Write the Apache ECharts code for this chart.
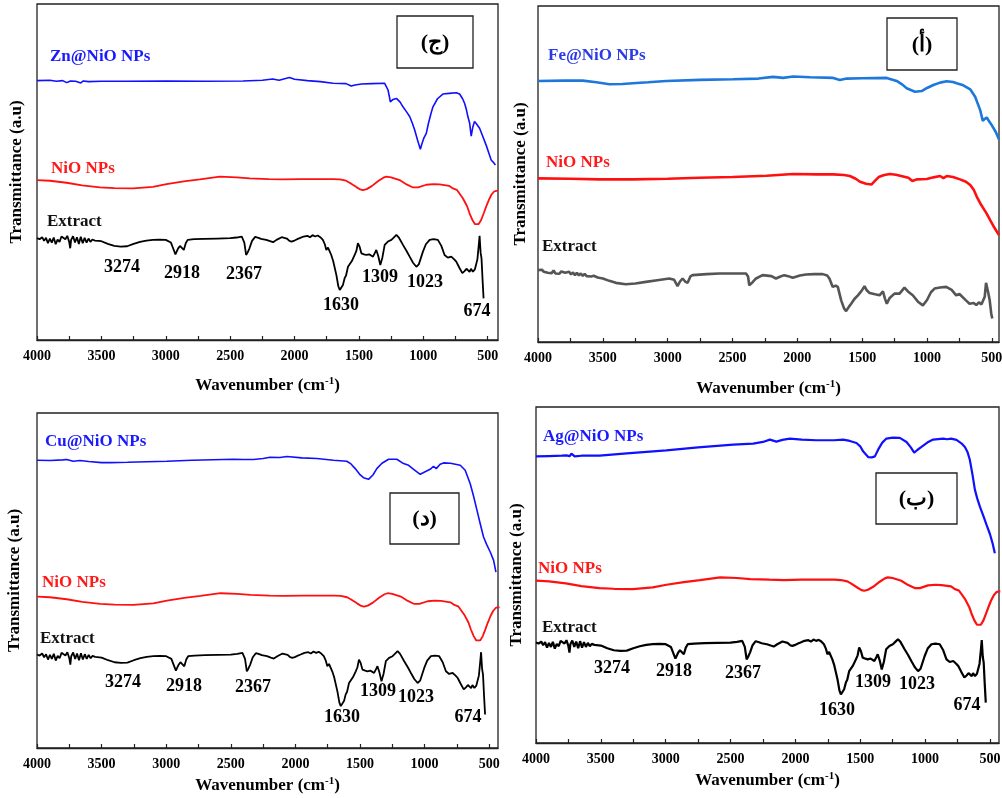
<!DOCTYPE html>
<html>
<head>
<meta charset="utf-8">
<script src="https://cdn.jsdelivr.net/npm/echarts@6/dist/echarts.min.js"></script>
<style>
html,body{margin:0;padding:0;background:#fff;}
#main{width:1002px;height:798px;}
</style>
</head>
<body>
<div id="main"></div>
<script>
// --- spectra, [wavenumber, transmittance a.u.] ---
// plant extract (shared by panels ج, د, ب)
var extract = [[4000,30.3],[3980,30.0],[3960,30.6],[3945,29.5],[3930,30.4],[3915,28.8],[3900,30.2],[3885,29.0],[3870,30.5],[3855,28.5],[3840,29.9],[3825,29.2],[3810,30.8],[3795,31.2],[3780,30.0],[3765,31.0],[3750,29.2],[3742,27.3],[3735,29.8],[3720,30.9],[3705,29.0],[3690,30.6],[3675,28.6],[3660,30.7],[3645,28.8],[3630,30.4],[3615,29.0],[3600,30.2],[3585,29.2],[3570,29.9],[3550,29.6],[3500,29.4],[3450,28.6],[3400,28.0],[3350,27.8],[3300,27.9],[3250,28.6],[3200,29.2],[3150,29.6],[3100,29.8],[3050,29.9],[3000,29.8],[2960,29.0],[2940,27.0],[2925,25.5],[2905,27.2],[2890,28.0],[2875,27.5],[2860,26.8],[2845,28.8],[2830,29.8],[2780,30.0],[2700,30.1],[2600,30.2],[2500,30.3],[2450,30.5],[2410,30.8],[2390,29.0],[2376,25.3],[2365,26.0],[2350,27.3],[2330,29.5],[2306,30.7],[2280,30.4],[2260,30.1],[2220,29.8],[2190,29.4],[2167,29.1],[2140,29.8],[2100,30.6],[2089,30.4],[2060,30.2],[2040,29.5],[2024,29.3],[2000,29.6],[1980,30.0],[1960,30.3],[1930,30.8],[1900,31.0],[1880,30.6],[1860,31.2],[1840,30.8],[1820,31.1],[1800,30.6],[1780,29.8],[1765,28.5],[1753,26.8],[1740,27.5],[1727,27.3],[1715,25.3],[1700,23.5],[1675,19.3],[1660,16.0],[1649,14.9],[1638,14.4],[1624,16.4],[1610,18.5],[1600,19.2],[1585,21.8],[1570,22.2],[1555,23.5],[1533,25.3],[1520,26.5],[1508,28.8],[1495,27.8],[1481,25.8],[1460,25.5],[1442,25.3],[1420,25.5],[1391,24.8],[1375,26.0],[1365,26.8],[1350,25.0],[1334,22.3],[1318,24.5],[1300,28.3],[1275,29.3],[1248,29.8],[1230,30.5],[1209,31.3],[1190,30.5],[1158,28.3],[1130,26.5],[1106,24.8],[1080,23.0],[1054,21.8],[1035,22.5],[1003,26.3],[980,28.5],[951,29.8],[920,30.0],[887,29.8],[860,28.0],[835,25.3],[810,24.5],[783,24.8],[760,24.0],[744,23.3],[720,21.5],[697,19.9],[680,20.5],[665,21.2],[654,20.8],[640,20.3],[630,21.2],[615,20.3],[600,21.0],[594,20.8],[580,24.0],[570,28.0],[563,31.0],[555,26.0],[548,24.3],[540,18.0],[532,12.4]];

// bare NiO NPs (shared by panels ج, د, ب)
var nio = [[4000,47.6],[3900,47.4],[3770,46.8],[3650,46.0],[3511,45.4],[3400,45.2],[3253,45.1],[3100,45.6],[2994,46.4],[2860,47.2],[2735,47.8],[2580,48.6],[2450,48.4],[2348,48.1],[2200,47.9],[2089,47.8],[1950,47.9],[1830,47.9],[1700,47.9],[1649,47.8],[1600,47.4],[1572,46.8],[1520,45.5],[1490,44.8],[1469,44.6],[1440,44.9],[1400,45.8],[1350,47.3],[1310,48.3],[1287,48.6],[1250,48.4],[1184,47.6],[1130,46.3],[1080,45.4],[1040,45.4],[977,46.2],[920,46.4],[873,46.3],[800,45.9],[770,45.1],[740,44.7],[693,42.2],[660,39.8],[641,37.7],[620,35.8],[600,34.5],[589,34.2],[570,34.5],[550,35.8],[530,37.8],[512,39.7],[490,41.8],[470,43.3],[450,44.2],[434,44.4],[420,44.4]];

// vertical shift of the shared curves in each panel (ج, أ, د, ب)
var extractShift = [0, null, -2.4, -0.4];
var nioShift = [0, null, -2.4, 0.7];

var znNio = [[4000,77.2],[3900,77.3],[3850,77.0],[3800,77.2],[3770,76.6],[3740,77.1],[3700,77.0],[3660,76.5],[3640,77.1],[3600,76.9],[3500,77.0],[3300,77.0],[3000,77.1],[2700,77.0],[2400,77.1],[2250,77.3],[2170,77.7],[2120,77.3],[2040,78.1],[2000,77.6],[1900,77.2],[1800,76.9],[1700,76.4],[1600,76.3],[1560,75.6],[1530,75.9],[1480,76.2],[1400,76.3],[1300,76.4],[1274,74.4],[1256,70.9],[1235,71.6],[1209,71.9],[1180,70.8],[1158,69.4],[1130,67.9],[1106,66.5],[1085,64.5],[1067,62.5],[1045,59.5],[1023,56.8],[1010,58.5],[997,60.0],[985,60.5],[977,61.5],[960,64.5],[940,67.5],[925,69.4],[890,71.8],[848,73.2],[800,73.4],[744,73.6],[718,73.2],[695,71.8],[679,70.4],[665,68.5],[654,66.5],[640,64.5],[628,60.7],[615,63.5],[602,65.0],[585,64.2],[563,63.0],[540,60.8],[512,58.0],[490,55.5],[473,53.6],[455,52.8],[440,52.1]];

var feNio = [[4000,77.7],[3800,77.8],[3655,77.8],[3550,77.3],[3449,76.7],[3350,76.8],[3269,77.0],[3150,77.3],[3011,77.7],[2750,78.0],[2496,78.2],[2300,78.4],[2187,78.9],[2110,78.6],[2032,79.0],[1900,78.8],[1723,78.6],[1672,78.0],[1620,78.4],[1500,78.5],[1311,78.6],[1234,77.7],[1190,76.6],[1157,75.5],[1093,74.5],[1041,74.7],[1000,75.6],[951,76.5],[900,77.2],[848,77.6],[800,77.4],[771,77.0],[720,76.4],[667,75.2],[629,73.0],[590,69.0],[570,65.8],[555,66.4],[539,66.8],[520,65.6],[500,64.5],[470,62.5],[445,60.3]];

var nioB = [[4000,48.7],[3750,48.6],[3526,48.4],[3269,48.4],[3000,48.6],[2754,48.9],[2500,49.1],[2238,49.5],[2032,50.0],[1850,49.9],[1723,49.9],[1640,49.7],[1595,49.4],[1550,48.6],[1517,47.7],[1470,47.1],[1427,46.9],[1400,48.0],[1373,49.1],[1330,49.7],[1286,50.0],[1240,49.8],[1208,49.5],[1144,48.9],[1113,47.9],[1080,48.4],[1002,48.5],[950,49.0],[899,49.4],[874,48.8],[848,49.4],[800,49.1],[745,48.4],[700,47.7],[667,46.7],[640,45.3],[616,43.2],[590,41.3],[564,39.7],[540,38.2],[513,36.3],[480,34.0],[445,31.8]];

var extractB = [[4000,21.4],[3985,21.0],[3970,21.5],[3955,20.9],[3940,21.2],[3925,20.6],[3910,21.1],[3895,20.5],[3880,21.3],[3865,20.4],[3850,20.9],[3835,20.3],[3820,21.0],[3805,21.4],[3790,20.6],[3775,20.2],[3760,20.9],[3745,20.1],[3730,20.7],[3715,19.9],[3700,20.6],[3685,19.8],[3670,20.4],[3655,19.7],[3640,20.3],[3625,19.6],[3610,20.0],[3590,19.5],[3570,19.7],[3540,19.2],[3500,18.9],[3450,18.2],[3400,17.6],[3323,17.2],[3250,17.4],[3168,17.9],[3080,18.4],[2988,18.9],[2950,18.5],[2924,16.6],[2905,18.0],[2885,18.9],[2865,18.0],[2846,17.6],[2825,19.5],[2808,19.9],[2700,20.2],[2602,20.4],[2500,20.4],[2396,20.4],[2380,19.5],[2371,16.9],[2345,17.8],[2319,18.9],[2268,19.9],[2200,19.6],[2165,18.9],[2130,19.5],[2101,19.9],[2070,19.6],[2036,19.1],[1980,19.8],[1933,20.1],[1870,20.2],[1804,20.2],[1770,19.8],[1753,18.9],[1727,16.4],[1705,16.8],[1688,16.4],[1662,12.4],[1640,10.0],[1624,9.2],[1600,10.6],[1585,11.4],[1560,12.8],[1533,13.9],[1505,15.2],[1482,16.6],[1465,15.4],[1443,14.6],[1400,14.2],[1366,13.9],[1340,15.1],[1325,13.0],[1310,11.4],[1290,13.0],[1251,14.4],[1212,14.4],[1174,16.2],[1140,14.8],[1110,13.9],[1070,12.0],[1032,10.9],[1000,12.5],[970,14.8],[942,15.9],[900,16.2],[852,16.4],[810,15.5],[775,13.9],[750,14.3],[736,14.1],[700,12.4],[672,11.4],[640,11.6],[620,11.0],[600,11.8],[580,11.2],[569,11.4],[555,13.5],[545,17.6],[538,17.6],[530,15.0],[517,12.5],[505,8.5],[497,7.0]];

var cuNio = [[4000,85.9],[3900,85.8],[3800,86.0],[3770,86.1],[3720,85.6],[3667,85.8],[3600,85.5],[3500,85.2],[3435,85.2],[3300,85.3],[2996,85.6],[2800,85.9],[2480,86.2],[2400,86.1],[2325,86.1],[2250,86.4],[2196,86.8],[2120,86.7],[2067,87.0],[1950,86.6],[1834,86.4],[1705,85.9],[1602,85.6],[1570,84.8],[1537,83.4],[1500,81.6],[1473,80.7],[1434,80.2],[1400,81.5],[1370,83.4],[1330,85.0],[1279,86.2],[1215,86.2],[1163,84.9],[1124,84.4],[1080,83.0],[1034,81.7],[1000,82.4],[957,83.2],[931,84.1],[910,83.4],[880,84.7],[853,85.1],[800,85.0],[724,84.4],[686,82.9],[647,78.9],[620,75.0],[595,71.0],[570,67.0],[544,63.0],[520,60.8],[492,58.5],[466,56.0],[448,52.5]];

var agNio = [[4000,85.3],[3900,85.4],[3800,85.5],[3766,85.6],[3740,85.4],[3727,86.1],[3702,85.3],[3650,85.5],[3509,85.5],[3300,86.2],[2995,87.1],[2750,88.0],[2480,88.8],[2326,89.1],[2250,89.6],[2197,90.3],[2146,89.7],[2100,90.2],[2043,90.6],[1950,90.3],[1838,90.1],[1700,90.1],[1632,90.3],[1580,89.9],[1529,89.3],[1500,88.3],[1478,86.8],[1439,85.1],[1410,85.0],[1387,85.3],[1362,87.3],[1330,89.4],[1298,90.6],[1250,90.9],[1195,90.8],[1143,89.6],[1110,88.0],[1084,86.4],[1060,87.2],[1028,88.1],[980,89.5],[938,90.3],[860,90.6],[830,90.4],[800,90.6],[758,90.2],[720,89.2],[693,88.1],[672,86.5],[655,84.3],[635,80.0],[616,75.4],[598,72.8],[578,70.4],[550,67.5],[526,64.9],[500,62.2],[480,59.5],[462,56.5]];

// axis ticks
var tickLabels = [500, 1000, 1500, 2000, 2500, 3000, 3500, 4000];
var tickMarks = [500, 750, 1000, 1250, 1500, 1750, 2000, 2250, 2500, 2750, 3000, 3250, 3500, 3750, 4000];
var peakLabels = ['3274', '2918', '2367', '1630', '1309', '1023', '674'];
var panelTags = ['(ج)', '(أ)', '(د)', '(ب)'];
var blueNames = ['Zn@NiO NPs', 'Fe@NiO NPs', 'Cu@NiO NPs', 'Ag@NiO NPs'];

var SERIF = '"Liberation Serif", "Times New Roman", serif';

function shift(arr, d) {
    return arr.map(function (p) { return [p[0], p[1] + d]; });
}

var myChart = echarts.init(document.getElementById('main'));

var grids = [
    {left: 37, top: 4, width: 461, height: 336},
    {left: 538, top: 6, width: 461, height: 336},
    {left: 37, top: 413, width: 461, height: 335},
    {left: 536, top: 407, width: 463, height: 336}
];
var xMin = [420, 445, 432, 430];
var yNameGap = [12, 9, 14, 11];
var xNameGap = [36, 37, 28, 28];

var xAxes = [], yAxes = [];
for (var i = 0; i < 4; i++) {
    grids[i].show = true;
    grids[i].borderColor = '#222';
    grids[i].borderWidth = 1.3;
    grids[i].containLabel = false;
    grids[i].outerBoundsMode = 'none';
    xAxes.push({
        type: 'value', gridIndex: i, inverse: true, min: xMin[i], max: 4000,
        name: '{a|Wavenumber (cm}{s|-1}{a|)}',
        nameLocation: 'middle', nameGap: xNameGap[i],
        nameTextStyle: {
            rich: {
                a: {fontFamily: SERIF, fontWeight: 'bold', fontSize: 17, color: '#000'},
                s: {fontFamily: SERIF, fontWeight: 'bold', fontSize: 11, color: '#000', padding: [0, 0, 8, 0]}
            }
        },
        axisLine: {show: true, onZero: false, lineStyle: {color: '#222', width: 1.3}},
        axisTick: {show: true, inside: true, length: 4, customValues: tickMarks, lineStyle: {color: '#222', width: 1.2}},
        axisLabel: {
            customValues: tickLabels, margin: 9, color: '#000',
            fontFamily: SERIF, fontWeight: 'bold', fontSize: 14,
            formatter: function (v) { return String(v); }
        },
        splitLine: {show: false}
    });
    yAxes.push({
        type: 'value', gridIndex: i, min: 0, max: 100,
        name: 'Transmittance (a.u)', nameLocation: 'middle', nameRotate: 90, nameGap: yNameGap[i],
        nameTextStyle: {fontFamily: SERIF, fontWeight: 'bold', fontSize: 17, color: '#000'},
        axisLine: {show: false}, axisTick: {show: false}, axisLabel: {show: false}, splitLine: {show: false}
    });
}

function line(name, idx, data, color, width) {
    return {
        name: name, type: 'line', xAxisIndex: idx, yAxisIndex: idx, data: data,
        showSymbol: false, symbol: 'none', silent: true, animation: false,
        lineStyle: {color: color, width: width}
    };
}

var series = [
    line('Zn@NiO', 0, znNio, '#1010ff', 1.6),
    line('NiO', 0, shift(nio, nioShift[0]), '#ff1010', 1.8),
    line('Extract', 0, shift(extract, extractShift[0]), '#000', 1.8),
    line('Fe@NiO', 1, feNio, '#1e78dc', 2.6),
    line('NiO', 1, nioB, '#ff1010', 2.6),
    line('Extract', 1, extractB, '#555', 2.6),
    line('Cu@NiO', 2, cuNio, '#1010ff', 1.6),
    line('NiO', 2, shift(nio, nioShift[2]), '#ff1010', 1.8),
    line('Extract', 2, shift(extract, extractShift[2]), '#000', 1.8),
    line('Ag@NiO', 3, agNio, '#1010ff', 2.2),
    line('NiO', 3, shift(nio, nioShift[3]), '#ff1010', 2.2),
    line('Extract', 3, shift(extract, extractShift[3]), '#000', 2.2)
];

// text placed on the page
var graphic = [];
function txt(s, x, y, color, size, align) {
    graphic.push({
        type: 'text', x: x, y: y, silent: true,
        style: {
            text: s, fill: color, align: align || 'left', verticalAlign: 'middle',
            font: 'bold ' + size + 'px ' + SERIF
        }
    });
}

// curve names
var namePos = [
    [[50, 57], [51, 169], [47, 222]],
    [[548, 56], [546, 163], [542, 247]],
    [[45, 442], [42, 583], [40, 639]],
    [[543, 437], [538, 569], [542, 628]]
];
var blueText = ['#1a1aff', '#2a3ae6', '#1a1aff', '#1a1aff'];
for (var k = 0; k < 4; k++) {
    txt(blueNames[k], namePos[k][0][0], namePos[k][0][1], blueText[k], 17);
    txt('NiO NPs', namePos[k][1][0], namePos[k][1][1], '#ff1a1a', 17);
    txt('Extract', namePos[k][2][0], namePos[k][2][1], '#111', 17);
}

// peak numbers (panels ج, د, ب)
var peakPos = [
    [[122, 267], [182, 273], [244, 274], [341, 305], [380, 277], [425, 282], [477, 311]],
    null,
    [[123, 682], [184, 686], [253, 687], [342, 717], [378, 691], [416, 697], [468, 717]],
    [[612, 668], [674, 671], [743, 673], [837, 710], [873, 682], [917, 684], [967, 705]]
];
for (var p = 0; p < 4; p++) {
    if (!peakPos[p]) continue;
    for (var q = 0; q < peakLabels.length; q++) {
        txt(peakLabels[q], peakPos[p][q][0], peakPos[p][q][1], '#000', 18, 'center');
    }
}

// boxed panel tags
var tagBox = [
    [397, 16, 76, 52],
    [887, 18, 70, 52],
    [390, 493, 69, 51],
    [876, 473, 81, 51]
];
for (var b = 0; b < 4; b++) {
    var r = tagBox[b];
    graphic.push({
        type: 'rect', silent: true,
        shape: {x: r[0], y: r[1], width: r[2], height: r[3]},
        style: {fill: '#fff', stroke: '#222', lineWidth: 1.3}
    });
    txt(panelTags[b], r[0] + r[2] / 2, r[1] + r[3] / 2 + 1, '#000', 22, 'center');
}

var option = {
    backgroundColor: '#fff',
    animation: false,
    grid: grids,
    xAxis: xAxes,
    yAxis: yAxes,
    series: series,
    graphic: graphic
};

myChart.setOption(option);
</script>
</body>
</html>
